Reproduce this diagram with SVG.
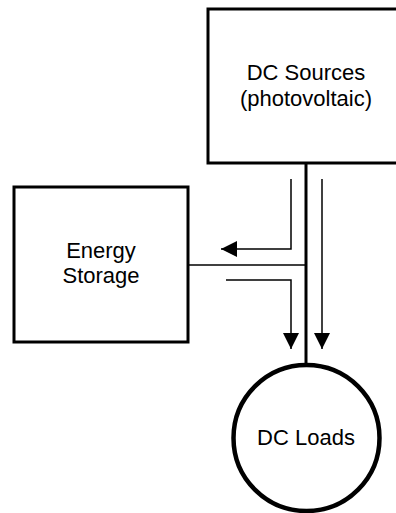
<svg xmlns="http://www.w3.org/2000/svg" width="396" height="513" viewBox="0 0 396 513">
<style>
.box{fill:#fff;stroke:#000;stroke-width:3}
.ring{fill:#fff;stroke:#000;stroke-width:4.5}
.bus{stroke:#000;stroke-width:3;fill:none}
.wire{stroke:#000;stroke-width:1.5;fill:none}
.flow{stroke:#000;stroke-width:1.5;fill:none;marker-end:url(#ah)}
.lbl{font-family:"Liberation Sans",Arial,sans-serif;font-size:22px;fill:#000;text-anchor:middle}
</style>
<defs>
<marker id="ah" markerUnits="userSpaceOnUse" markerWidth="17" markerHeight="16" refX="16" refY="8" orient="auto" viewBox="0 0 17 16">
<path d="M0,0 L16,8 L0,16 z" fill="#000"/>
</marker>
</defs>
<g id="connectors">
<line class="bus" x1="306" y1="163" x2="306" y2="366"/>
<line class="wire" x1="188" y1="265" x2="306" y2="265"/>
<polyline class="flow" points="291,179 291,249 221,249"/>
<polyline class="flow" points="226,280 291,280 291,349"/>
<line class="flow" x1="322" y1="179" x2="322" y2="349"/>
</g>
<g id="dc-sources">
<rect class="box" x="208" y="9" width="196" height="154"/>
<text class="lbl" x="306" y="80">DC Sources</text>
<text class="lbl" x="306" y="106">(photovoltaic)</text>
</g>
<g id="energy-storage">
<rect class="box" x="14" y="187" width="174" height="155"/>
<text class="lbl" x="101" y="258">Energy</text>
<text class="lbl" x="101" y="283">Storage</text>
</g>
<g id="dc-loads">
<circle class="ring" cx="306.5" cy="438" r="73"/>
<text class="lbl" x="306" y="445">DC Loads</text>
</g>
</svg>
